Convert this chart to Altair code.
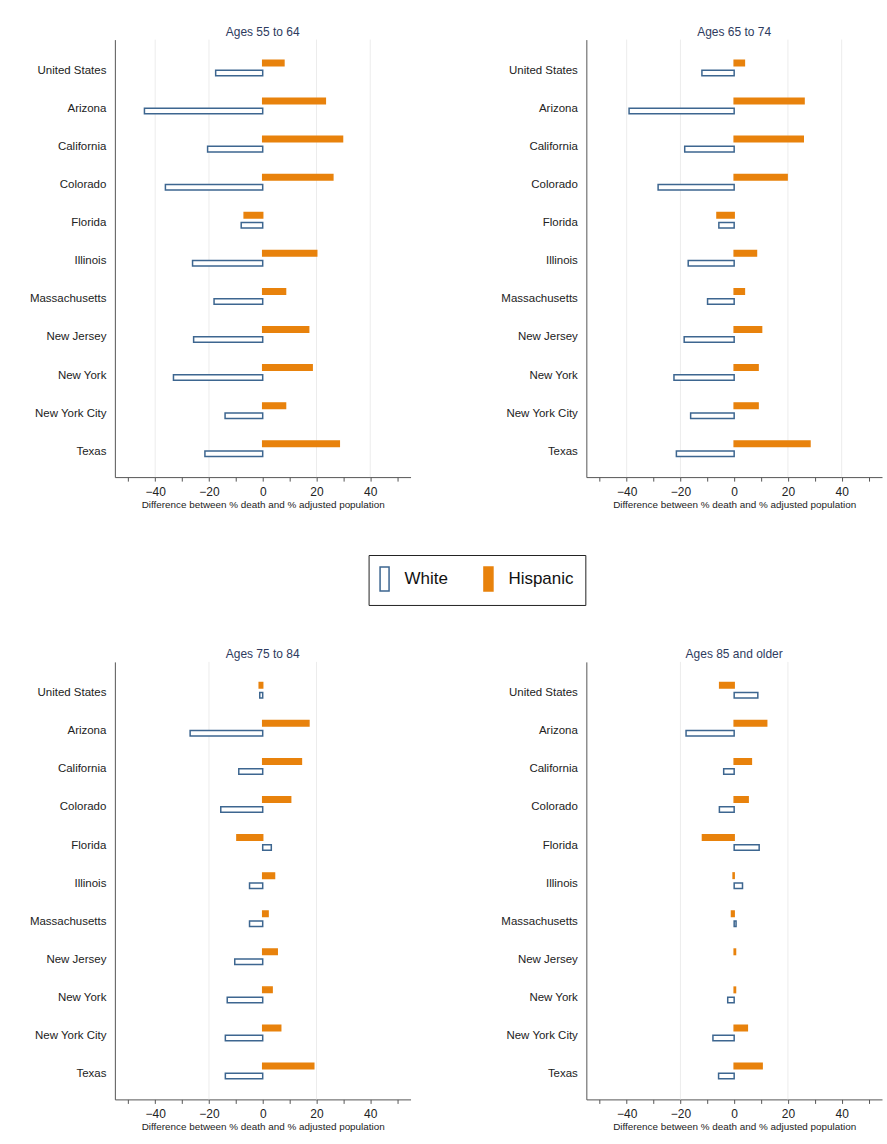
import altair as alt
import pandas as pd

states = ["United States", "Arizona", "California", "Colorado", "Florida", "Illinois",
          "Massachusetts", "New Jersey", "New York", "New York City", "Texas"]
groups = ["Hispanic", "White"]

panel_titles = ["Ages 55 to 64", "Ages 65 to 74", "Ages 75 to 84", "Ages 85 and older"]

# Difference between % of deaths and % of age-adjusted population, by group
white_55_64 = [-17.5, -44.0, -20.5, -36.2, -8.0, -26.1, -18.1, -25.7, -33.2, -14.0, -21.5]
hisp_55_64 = [7.9, 23.3, 29.7, 26.1, -6.9, 20.1, 8.5, 17.1, 18.4, 8.5, 28.5]

white_65_74 = [-12.0, -39.1, -18.4, -28.3, -5.7, -17.1, -9.9, -18.6, -22.4, -16.2, -21.5]
hisp_65_74 = [3.8, 26.0, 25.7, 19.7, -6.4, 8.3, 3.8, 10.2, 8.9, 8.9, 28.2]

white_75_84 = [-1.1, -27.0, -8.9, -15.6, 3.2, -4.9, -4.9, -10.4, -13.2, -13.9, -13.9]
hisp_75_84 = [-1.3, 17.2, 14.4, 10.4, -9.6, 4.4, 2.0, 5.4, 3.5, 6.7, 19.0]

white_85 = [8.8, -17.9, -3.9, -5.5, 9.3, 3.1, 0.7, None, -2.4, -7.9, -5.8]
hisp_85 = [-5.4, 12.1, 6.4, 5.2, -11.8, -0.4, -1.0, 0.5, 0.5, 4.9, 10.4]

# light vertical reference lines drawn in each panel
grid_top = [-40, -20, 20, 40]
grid_bottom = [-20, 20]

X_TITLE = "Difference between % death and % adjusted population"

ORANGE = "#e8820c"
BLUE = "#3d6690"
FONT = "Liberation Sans"


def panel(title, white, hisp, grid_vals):
    rows = []
    for s, w, h in zip(states, white, hisp):
        rows.append({"state": s, "group": "Hispanic", "value": h})
        rows.append({"state": s, "group": "White", "value": w})
    df = pd.DataFrame(rows)

    x_scale = alt.Scale(domain=[-55, 55], nice=False, zero=False)
    x_axis = alt.Axis(
        values=list(range(-50, 51, 10)),
        labelExpr="datum.value % 20 === 0 ? datum.label : ''",
        title=X_TITLE,
    )

    grid = alt.Chart(pd.DataFrame({"g": grid_vals})).mark_rule(
        color="#ececec", strokeWidth=1
    ).encode(x=alt.X("g:Q", scale=x_scale, axis=x_axis, title=X_TITLE))

    bars = alt.Chart(df).mark_bar(strokeWidth=1.5).encode(
        x=alt.X("value:Q", scale=x_scale, axis=x_axis, title=X_TITLE),
        y=alt.Y(
            "state:N",
            sort=states,
            scale=alt.Scale(paddingInner=0.55, paddingOuter=0.52),
            axis=alt.Axis(title=None, labelOffset=3),
        ),
        yOffset=alt.YOffset(
            "group:N",
            sort=groups,
            scale=alt.Scale(domain=groups, paddingInner=0.45, paddingOuter=0.08),
        ),
        fill=alt.Fill(
            "group:N",
            scale=alt.Scale(domain=["White", "Hispanic"], range=["#ffffff", ORANGE]),
            legend=alt.Legend(title=None),
        ),
        stroke=alt.Stroke(
            "group:N",
            scale=alt.Scale(domain=["White", "Hispanic"], range=[BLUE, ORANGE]),
            legend=alt.Legend(title=None),
        ),
    )

    return alt.layer(grid, bars).properties(
        width=296,
        height=438,
        title=alt.TitleParams(title, fontSize=12, font=FONT, color="#2e3b5e",
                              fontWeight="normal", offset=0),
    )


top = alt.hconcat(
    panel(panel_titles[0], white_55_64, hisp_55_64, grid_top),
    panel(panel_titles[1], white_65_74, hisp_65_74, grid_top),
    spacing=90,
)
bottom = alt.hconcat(
    panel(panel_titles[2], white_75_84, hisp_75_84, grid_bottom),
    panel(panel_titles[3], white_85, hisp_85, grid_bottom),
    spacing=90,
)

# tall narrow bar used as the legend swatch
symbol_path = "M-0.375,-1L0.375,-1L0.375,1L-0.375,1Z"

chart = (
    alt.vconcat(top, bottom, spacing=139)
    .resolve_scale(fill="shared", stroke="shared")
    .properties(padding={"left": 29, "top": 25, "right": 5, "bottom": 5}, background="white")
    .configure_view(stroke=None)
    .configure_axis(
        labelFont=FONT,
        titleFont=FONT,
        labelColor="#222222",
        titleColor="#222222",
        domainColor="#555555",
        tickColor="#555555",
        grid=False,
    )
    .configure_axisX(labelFontSize=12, titleFontSize=9.9, titleFontWeight="normal",
                     tickSize=4, titlePadding=2, labelPadding=5)
    .configure_axisY(labelFontSize=11.5, ticks=False, labelPadding=9)
    .configure_legend(
        orient="none",
        legendX=254,
        legendY=516,
        direction="horizontal",
        strokeColor="#222222",
        padding=11,
        symbolType=symbol_path,
        symbolSize=576,
        symbolStrokeWidth=1.5,
        symbolOffset=-8,
        labelFont=FONT,
        labelFontSize=17,
        labelColor="#111111",
        labelOffset=7,
        columnPadding=32,
    )
)

chart.save("out.html", embed_options={"renderer": "svg", "actions": False})
